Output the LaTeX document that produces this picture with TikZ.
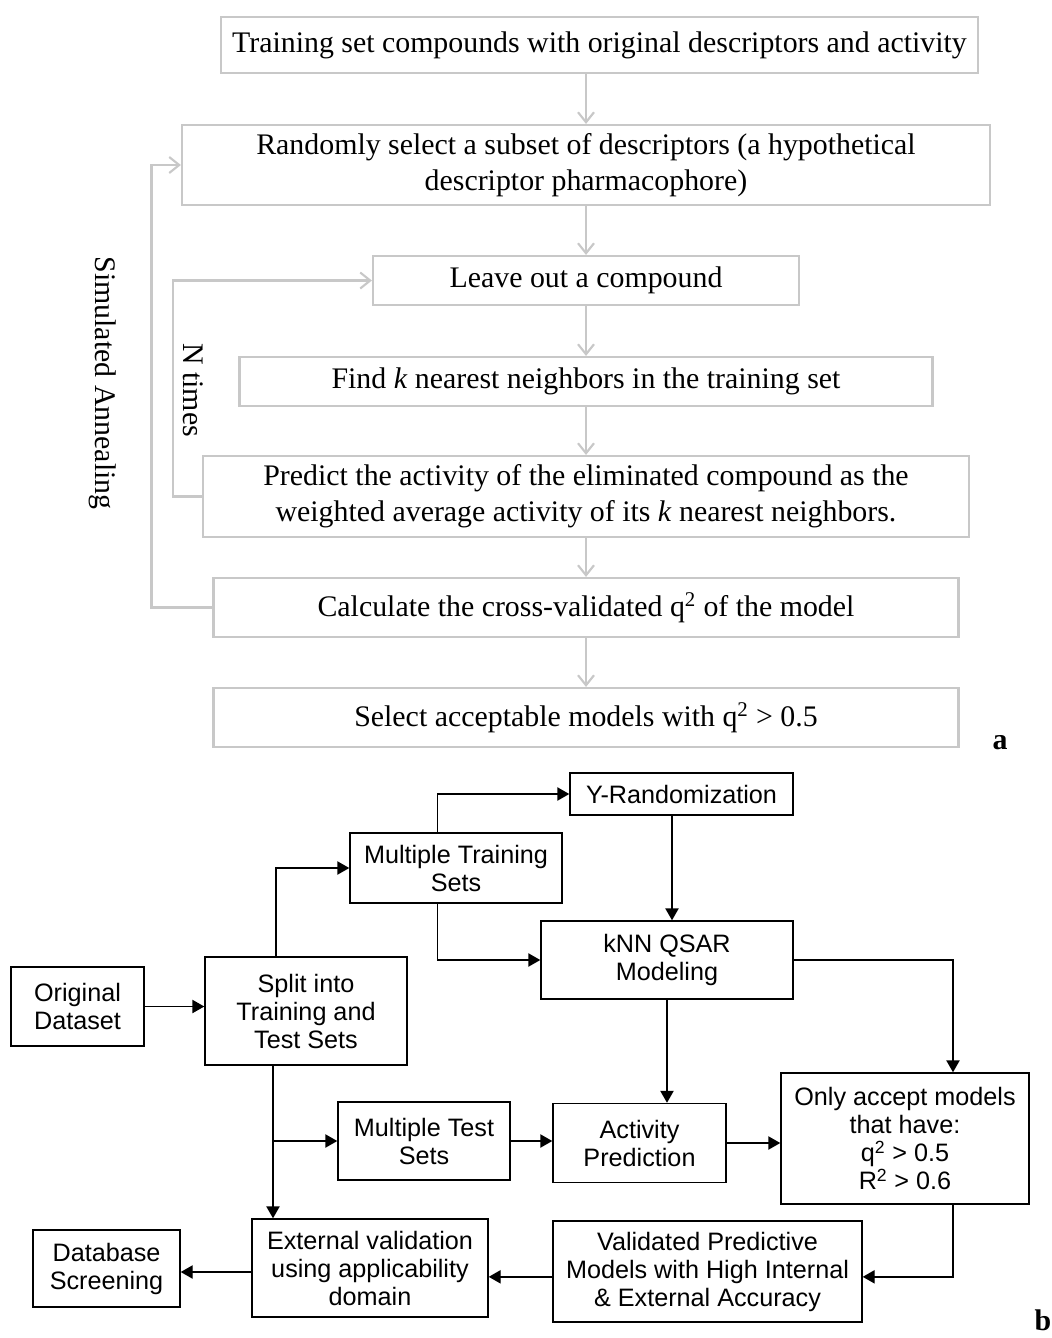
\documentclass[tikz,border=0pt]{standalone}
\usepackage{fontspec}
\setmainfont{Liberation Serif}
\setsansfont{Liberation Sans}
\usetikzlibrary{arrows.meta}
\definecolor{lgray}{RGB}{200,200,200}

\begin{document}
\begin{tikzpicture}[x=0.75pt,y=-0.75pt,
    sz/.style 2 args={minimum width=#1*0.75pt,minimum height=#2*0.75pt},
    gbox/.style={draw=lgray,line width=1.6pt,align=center,inner sep=0pt,
        font=\fontsize{22.4}{27}\selectfont},
    bbox/.style={draw=black,line width=1.1pt,align=center,inner sep=0pt,
        font=\sffamily\fontsize{18.9}{21}\selectfont},
    garrow/.style={draw=lgray,line width=1.6pt,-{Straight Barb[length=7.5pt,width=12pt]}},
    barrow/.style={line width=1.1pt,-{Triangle[length=9pt,width=10pt]}}]
\useasboundingbox (0,0) rectangle (1052,1338);
\node[gbox,sz={757}{56}] (train) at (599.5,45)
    {Training set compounds with original descriptors and activity};
\node[gbox,sz={808}{80}] (subset) at (586,165)
    {Randomly select a subset of descriptors (a hypothetical\\descriptor pharmacophore)};
\node[gbox,sz={426}{49}] (leave) at (586,280.5) {Leave out a compound};
\node[gbox,sz={693}{49}] (knear) at (586,381.5)
    {Find \textit{k} nearest neighbors in the training set};
\node[gbox,sz={766}{81}] (pred) at (586,496.5)
    {Predict the activity of the eliminated compound as the\\weighted average activity of its \textit{k} nearest neighbors.};
\node[gbox,sz={745}{59}] (calc) at (586,607.5)
    {Calculate the cross-validated q\textsuperscript{2} of the model};
\node[gbox,sz={745}{59}] (sel) at (586,717.5)
    {Select acceptable models with q\textsuperscript{2} > 0.5};
\draw[garrow] (train.south -| subset.north) -- (subset.north);
\draw[garrow] (subset.south) -- (leave.north);
\draw[garrow] (leave.south) -- (knear.north);
\draw[garrow] (knear.south) -- (pred.north);
\draw[garrow] (pred.south) -- (calc.north);
\draw[garrow] (calc.south) -- (sel.north);
\draw[garrow] (calc.west) -- ++(-61,0) |- (subset.west);
\draw[garrow] (pred.west) -- ++(-29,0) |- (leave.west);
\node[rotate=-90,font=\fontsize{22.4}{27}\selectfont] (anneal) at (103,383) {Simulated Annealing};
\node[rotate=-90,font=\fontsize{22.4}{27}\selectfont] (ntimes) at (193,390) {N times};
\node[font=\fontsize{22.4}{27}\selectfont\bfseries] (lbla) at (1000,743) {a};

\node[bbox,sz={223}{42}] (yrand) at (681.5,794) {Y-Randomization};
\node[bbox,sz={212}{70}] (mtrain) at (456,868) {Multiple Training\\Sets};
\node[bbox,sz={252}{78}] (knn) at (667,960) {kNN QSAR\\Modeling};
\node[bbox,sz={133}{79}] (orig) at (77.5,1006.5) {Original\\Dataset};
\node[bbox,sz={202}{108}] (split) at (306,1011) {Split into\\Training and\\Test Sets};
\node[bbox,sz={172}{78}] (mtest) at (424,1141) {Multiple Test\\Sets};
\node[bbox,sz={173}{79}] (act) at (639.5,1143) {Activity\\Prediction};
\node[bbox,sz={248}{131}] (accept) at (905,1138.5)
    {Only accept models\\that have:\\q\textsuperscript{2} > 0.5\\R\textsuperscript{2} > 0.6};
\node[bbox,sz={309}{101}] (valid) at (707.5,1271.5)
    {Validated Predictive\\Models with High Internal\\\& External Accuracy};
\node[bbox,sz={236}{98}] (ext) at (370,1268)
    {External validation\\using applicability\\domain};
\node[bbox,sz={147}{77}] (db) at (106.5,1268.5) {Database\\Screening};
\node[font=\fontsize{22.4}{27}\selectfont\bfseries] (lblb) at (1043,1320) {b};
\draw[barrow] (orig.east) -- (orig.east -| split.west);
\draw[barrow] ([xshift=-22.5pt]split.north) |- (mtrain.west);
\draw[barrow] ([xshift=-14pt]mtrain.north) |- (yrand.west);
\draw[barrow] ([xshift=-14pt]mtrain.south) |- (knn.west);
\draw[barrow] ([xshift=3.75pt]knn.north |- yrand.south) -- ([xshift=3.75pt]knn.north);
\draw[barrow] (knn.east) -| ([xshift=36pt]accept.north);
\draw[barrow] (knn.south) -- (knn.south |- act.north);
\draw[barrow] ([xshift=-24.75pt]split.south) -- ([xshift=-24.75pt]split.south |- ext.north);
\draw[barrow] ([xshift=-24.75pt]split.south |- mtest.west) -- (mtest.west);
\draw[barrow] (mtest.east) -- (mtest.east -| act.west);
\draw[barrow] (act.east) -- (act.east -| accept.west);
\draw[barrow] ([xshift=36pt]accept.south) |- ([yshift=-4pt]valid.east);
\draw[barrow] ([yshift=-4pt]valid.west) -- ([yshift=-4pt]valid.west -| ext.east);
\draw[barrow] ([yshift=-3pt]ext.west) -- ([yshift=-3pt]ext.west -| db.east);
\end{tikzpicture}
\end{document}
